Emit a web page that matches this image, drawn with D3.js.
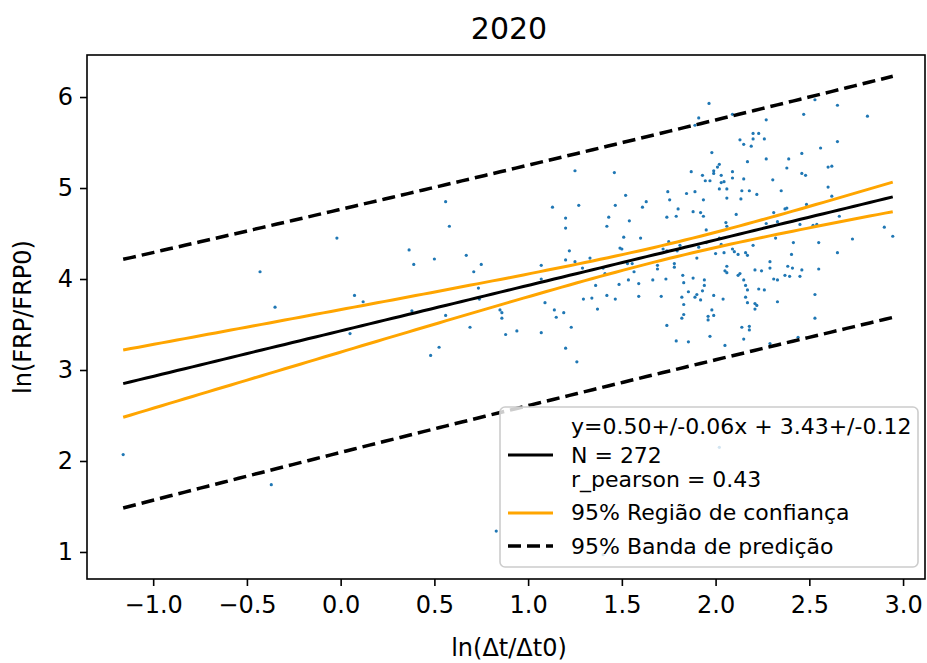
<!DOCTYPE html>
<html><head><meta charset="utf-8">
<script src="https://cdn.jsdelivr.net/npm/d3@7"></script>
<style>body{margin:0;background:#fff}</style>
</head><body>
<svg id="c" width="927" height="663"></svg>
<script>
// ---- data ----
const title = "2020";
const xLabel = "ln(Δt/Δt0)";
const yLabel = "ln(FRP/FRP0)";
const xTicks = [-1.0,-0.5,0.0,0.5,1.0,1.5,2.0,2.5,3.0];
const yTicks = [1,2,3,4,5,6];
const fitSlope = 0.50, fitIntercept = 3.43;
const fitN = 272;
const residualStd = 0.668;
const legendLabels = ["y=0.50+/-0.06x + 3.43+/-0.12","N = 272","r_pearson = 0.43","95% Região de confiança","95% Banda de predição"];
const tValue = 1.969;

const xs = [
-0.02,-0.43,-0.35,0.074,0.12,
0.05,-1.16,-0.37,
1.25,0.56,1.13,1.27,1.20,1.20,0.58,0.365,0.39,0.50,0.67,0.75,0.71,0.735,0.74,1.22,1.20,1.25,1.33,1.29,1.07,1.07,1.09,1.36,1.295,1.34,1.37,1.14,1.19,0.85,0.86,0.86,1.15,0.56,0.38,
0.69,0.88,0.94,1.07,1.23,1.20,1.26,0.48,0.525,0.83,
2.02,1.40,
1.965,1.91,1.89,2.09,1.46,1.98,2.13,2.15,2.20,2.23,2.20,2.19,2.17,1.87,2.02,2.01,1.99,1.99,1.93,2.03,1.945,1.97,2.03,2.045,2.09,2.09,2.15,2.02,2.06,2.14,2.18,2.22,2.06,2.135,1.745,1.755,1.845,1.89,1.935,1.52,1.465,1.63,1.61,1.80,1.88,1.92,1.935,1.79,1.74,1.43,2.11,
1.42,1.54,1.51,1.60,1.95,2.055,2.06,1.75,1.81,1.49,1.50,1.72,1.74,1.795,1.91,1.95,2.02,2.03,2.09,2.10,2.12,2.00,2.045,2.16,2.17,2.20,1.90,1.53,1.555,1.40,1.41,1.69,1.69,1.78,1.78,2.06,2.05,2.06,2.13,2.12,2.21,1.565,1.825,1.88,1.94,2.15,1.535,1.665,1.735,1.83,1.94,1.485,1.59,2.16,2.17,2.23,1.855,1.93,1.42,1.465,1.59,1.71,1.82,1.89,1.90,1.92,1.99,2.04,2.16,2.17,2.21,2.22,2.21,1.83,1.98,1.99,1.96,1.96,1.83,1.82,1.74,2.14,2.18,2.18,2.15,1.97,1.79,1.855,2.05,
2.53,2.65,2.47,2.81,2.27,2.26,2.65,2.56,2.46,2.27,2.39,2.38,2.60,2.62,2.46,2.48,2.305,2.35,2.60,2.62,2.485,2.31,2.37,2.38,2.66,
2.27,2.33,2.45,2.52,2.54,2.90,2.945,2.32,2.415,2.55,2.73,2.65,2.405,2.29,2.29,2.245,2.385,2.41,2.46,2.55,2.37,2.395,2.45,2.31,2.33,2.26,2.33,2.53,2.53,2.29,2.44
];
const ys = [
4.45,4.08,3.69,3.82,3.75,
3.40,2.07,1.74,
5.19,4.85,4.79,4.81,4.67,4.56,4.58,4.32,4.16,4.22,4.26,4.16,4.08,3.90,3.78,4.31,4.21,4.19,4.23,4.12,4.15,4.00,3.74,3.93,3.78,3.79,3.67,3.66,3.63,3.66,3.63,3.57,3.58,3.60,3.65,
3.47,3.39,3.43,3.41,3.47,3.24,3.09,3.16,3.25,1.23,
2.15,0.97,
5.93,5.77,5.69,5.81,5.17,5.39,5.53,5.48,5.60,5.60,5.54,5.46,5.29,5.18,5.26,5.23,5.19,5.16,5.14,5.14,5.08,5.08,5.06,5.07,5.18,5.11,5.10,4.99,4.99,4.97,4.97,4.93,4.89,4.88,4.96,4.87,4.94,4.96,4.87,4.92,4.81,4.85,4.79,4.77,4.74,4.73,4.69,4.69,4.68,4.68,4.71,
4.58,4.64,4.46,4.45,4.54,4.62,4.58,4.41,4.37,4.34,4.33,4.33,4.31,4.31,4.35,4.40,4.45,4.38,4.33,4.30,4.27,4.28,4.29,4.29,4.26,4.37,4.23,4.17,4.17,4.12,4.06,4.15,4.11,4.17,4.13,4.14,4.09,4.07,4.06,4.04,4.10,4.08,4.04,4.01,3.99,3.99,3.99,3.99,4.00,3.96,3.93,3.94,3.95,3.93,3.88,3.89,3.86,3.87,3.82,3.78,3.81,3.81,3.80,3.80,3.83,3.77,3.82,3.78,3.80,3.74,3.73,3.71,3.67,3.72,3.66,3.60,3.59,3.55,3.61,3.57,3.49,3.47,3.48,3.44,3.34,3.37,3.32,3.31,3.27,
5.97,5.91,5.81,5.79,5.75,5.54,5.51,5.44,5.38,5.32,5.32,5.22,5.23,5.24,5.16,5.14,5.09,4.97,5.01,4.91,4.82,4.73,4.77,4.78,4.69,
4.61,4.63,4.60,4.59,4.60,4.57,4.47,4.45,4.40,4.40,4.44,4.29,4.27,4.19,4.12,4.09,4.14,4.12,4.10,4.11,4.04,4.03,4.03,4.00,3.99,3.88,3.75,3.83,3.57,3.29,3.36
];

// ---- layout ----
const svg = d3.select("#c");
const L=87, R=925, T=55, B=579;
const x = d3.scaleLinear().domain([-1.353, 3.117]).range([L, R]);
const y = d3.scaleLinear().domain([0.703, 6.462]).range([B, T]);
const font = "DejaVu Sans, sans-serif";

// ---- fit bands ----
const n = fitN;
const xm = d3.mean(xs);
const sxx = d3.variance(xs) * (xs.length - 1) * fitN / xs.length;
const s = residualStd;
const xmin = d3.min(xs), xmax = d3.max(xs);
const grid = d3.range(0, 101).map(i => xmin + (xmax - xmin) * i / 100);
const yhat = v => fitIntercept + fitSlope * v;
const ci = v => tValue * s * Math.sqrt(1 / n + (v - xm) ** 2 / sxx);
const pi = v => tValue * s * Math.sqrt(1 + 1 / n + (v - xm) ** 2 / sxx);

svg.append("clipPath").attr("id","pc").append("rect")
  .attr("x",L).attr("y",T).attr("width",R-L).attr("height",B-T);
const g = svg.append("g").attr("clip-path","url(#pc)");

// points
g.selectAll("circle").data(xs).join("circle")
  .attr("cx", d => x(d)).attr("cy", (d,i) => y(ys[i])).attr("r", 1.6)
  .attr("fill", "#1f77b4");

const line = d3.line().x(d => x(d[0])).y(d => y(d[1]));
g.append("path").datum(grid.map(v => [v, yhat(v)])).attr("d", line)
  .attr("fill","none").attr("stroke","#000").attr("stroke-width",3);
[1,-1].forEach(sg => {
  g.append("path").datum(grid.map(v => [v, yhat(v) + sg * ci(v)])).attr("d", line)
    .attr("fill","none").attr("stroke","#FFA500").attr("stroke-width",3);
});
[1,-1].forEach(sg => {
  g.append("path").datum(grid.map(v => [v, yhat(v) + sg * pi(v)])).attr("d", line)
    .attr("fill","none").attr("stroke","#000").attr("stroke-width",3.5)
    .attr("stroke-dasharray","13,6");
});

// axes
const fmtX = d => d3.format(".1f")(d).replace("-", "\u2212");
const xa = svg.append("g").attr("transform",`translate(0,${B})`)
  .call(d3.axisBottom(x).tickValues(xTicks).tickFormat(fmtX).tickSize(7).tickPadding(10));
const ya = svg.append("g").attr("transform",`translate(${L},0)`)
  .call(d3.axisLeft(y).tickValues(yTicks).tickFormat(d3.format("d")).tickSize(7).tickPadding(7));
[xa, ya].forEach(a => {
  a.select(".domain").remove();
  a.selectAll("line").attr("stroke","#000").attr("stroke-width",1.6);
  a.selectAll("text").attr("font-family",font).attr("font-size",24).attr("fill","#000");
});
svg.append("rect").attr("x",L).attr("y",T).attr("width",R-L).attr("height",B-T)
  .attr("fill","none").attr("stroke","#000").attr("stroke-width",1.6);

// title & labels
svg.append("text").attr("x",509).attr("y",39).attr("text-anchor","middle")
  .attr("font-family",font).attr("font-size",30).text(title);
svg.append("text").attr("x",509).attr("y",656).attr("text-anchor","middle")
  .attr("font-family",font).attr("font-size",24).text(xLabel);
svg.append("text").attr("transform",`translate(31,${(T+B)/2}) rotate(-90)`).attr("text-anchor","middle")
  .attr("font-family",font).attr("font-size",24).text(yLabel);

// legend
const lg = svg.append("g");
lg.append("rect").attr("x",500).attr("y",407).attr("width",418).attr("height",160).attr("rx",5)
  .attr("fill","#fff").attr("fill-opacity",0.8).attr("stroke","#cccccc").attr("stroke-width",1.6);
const ty = [434,463,487,520,554];
legendLabels.forEach((t,i) => {
  lg.append("text").attr("x",571).attr("y",ty[i]).attr("font-family",font).attr("font-size",22).text(t);
});
lg.append("line").attr("x1",508).attr("x2",553).attr("y1",455).attr("y2",455).attr("stroke","#000").attr("stroke-width",3);
lg.append("line").attr("x1",508).attr("x2",553).attr("y1",513).attr("y2",513).attr("stroke","#FFA500").attr("stroke-width",3);
lg.append("line").attr("x1",508).attr("x2",553).attr("y1",546).attr("y2",546).attr("stroke","#000").attr("stroke-width",3.5).attr("stroke-dasharray","13,6");
</script>
</body></html>
